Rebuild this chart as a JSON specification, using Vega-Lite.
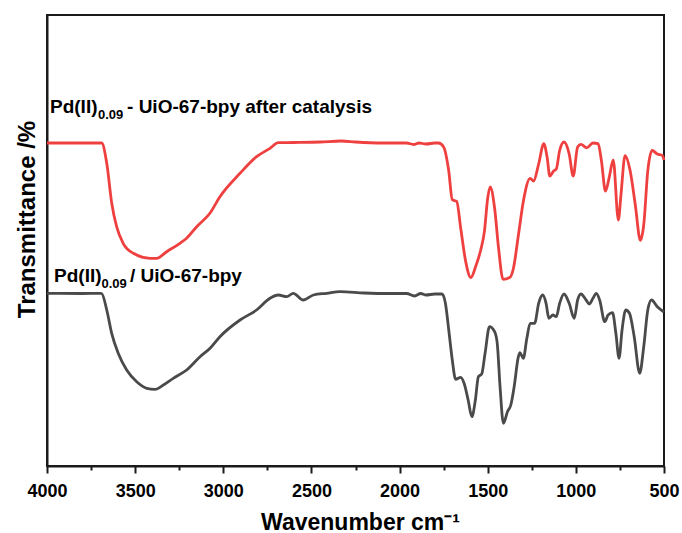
{
  "$schema": "https://vega.github.io/schema/vega-lite/v6.json",
  "width": 617,
  "height": 451,
  "autosize": {"type": "none"},
  "padding": {"left": 47, "top": 15, "right": 18, "bottom": 67},
  "background": "white",
  "config": {
    "font": "Liberation Sans",
    "view": {"stroke": "#1a1a1a", "strokeWidth": 2},
    "axis": {"grid": false, "domainColor": "#1a1a1a", "domainWidth": 2, "tickColor": "#1a1a1a", "tickWidth": 2},
    "text": {"font": "Liberation Sans", "fontWeight": "bold", "align": "left", "baseline": "alphabetic", "color": "#000000"}
  },
  "datasets": {
    "spectra": [
      {"sample": "after", "wn": 4000, "t": 323}, {"sample": "after", "wn": 3850, "t": 323}, {"sample": "after", "wn": 3720, "t": 323},
      {"sample": "after", "wn": 3690, "t": 323}, {"sample": "after", "wn": 3661, "t": 302.7}, {"sample": "after", "wn": 3633, "t": 263},
      {"sample": "after", "wn": 3605, "t": 239.3}, {"sample": "after", "wn": 3568, "t": 222.7}, {"sample": "after", "wn": 3510, "t": 212.7},
      {"sample": "after", "wn": 3415, "t": 207.7}, {"sample": "after", "wn": 3378, "t": 207.7}, {"sample": "after", "wn": 3321, "t": 214.3},
      {"sample": "after", "wn": 3246, "t": 222.7}, {"sample": "after", "wn": 3208, "t": 227.7}, {"sample": "after", "wn": 3151, "t": 239.3},
      {"sample": "after", "wn": 3076, "t": 252.7}, {"sample": "after", "wn": 3019, "t": 269.3}, {"sample": "after", "wn": 2905, "t": 292.7},
      {"sample": "after", "wn": 2811, "t": 309.3}, {"sample": "after", "wn": 2735, "t": 317.7}, {"sample": "after", "wn": 2688, "t": 323.3},
      {"sample": "after", "wn": 2600, "t": 323.5}, {"sample": "after", "wn": 2450, "t": 324}, {"sample": "after", "wn": 2330, "t": 325},
      {"sample": "after", "wn": 2250, "t": 324}, {"sample": "after", "wn": 2100, "t": 323}, {"sample": "after", "wn": 1960, "t": 323},
      {"sample": "after", "wn": 1920, "t": 321.5}, {"sample": "after", "wn": 1890, "t": 323}, {"sample": "after", "wn": 1850, "t": 322},
      {"sample": "after", "wn": 1800, "t": 323}, {"sample": "after", "wn": 1779, "t": 323}, {"sample": "after", "wn": 1750, "t": 319},
      {"sample": "after", "wn": 1721, "t": 295}, {"sample": "after", "wn": 1701, "t": 266.3}, {"sample": "after", "wn": 1676, "t": 264.6},
      {"sample": "after", "wn": 1653, "t": 237.5}, {"sample": "after", "wn": 1624, "t": 203.6}, {"sample": "after", "wn": 1596, "t": 188.4},
      {"sample": "after", "wn": 1567, "t": 200.2}, {"sample": "after", "wn": 1538, "t": 217.2}, {"sample": "after", "wn": 1519, "t": 234.1},
      {"sample": "after", "wn": 1500, "t": 268}, {"sample": "after", "wn": 1486, "t": 279.2}, {"sample": "after", "wn": 1461, "t": 258},
      {"sample": "after", "wn": 1438, "t": 217.2}, {"sample": "after", "wn": 1413, "t": 186.7}, {"sample": "after", "wn": 1375, "t": 188.4},
      {"sample": "after", "wn": 1355, "t": 197}, {"sample": "after", "wn": 1326, "t": 230.7}, {"sample": "after", "wn": 1298, "t": 264.6},
      {"sample": "after", "wn": 1259, "t": 287.7}, {"sample": "after", "wn": 1240, "t": 285}, {"sample": "after", "wn": 1211, "t": 302},
      {"sample": "after", "wn": 1182, "t": 322.3}, {"sample": "after", "wn": 1163, "t": 308.7}, {"sample": "after", "wn": 1148, "t": 290},
      {"sample": "after", "wn": 1125, "t": 295.2}, {"sample": "after", "wn": 1111, "t": 297}, {"sample": "after", "wn": 1092, "t": 315.5},
      {"sample": "after", "wn": 1067, "t": 324}, {"sample": "after", "wn": 1038, "t": 312.1}, {"sample": "after", "wn": 1015, "t": 290},
      {"sample": "after", "wn": 990, "t": 319}, {"sample": "after", "wn": 971, "t": 321.6}, {"sample": "after", "wn": 938, "t": 318.2},
      {"sample": "after", "wn": 903, "t": 323}, {"sample": "after", "wn": 874, "t": 322.3}, {"sample": "after", "wn": 855, "t": 305.3},
      {"sample": "after", "wn": 832, "t": 274.8}, {"sample": "after", "wn": 811, "t": 288.4}, {"sample": "after", "wn": 788, "t": 306},
      {"sample": "after", "wn": 759, "t": 246}, {"sample": "after", "wn": 744, "t": 271.4}, {"sample": "after", "wn": 721, "t": 310.4},
      {"sample": "after", "wn": 692, "t": 295.2}, {"sample": "after", "wn": 663, "t": 261.3}, {"sample": "after", "wn": 634, "t": 225.7},
      {"sample": "after", "wn": 615, "t": 241}, {"sample": "after", "wn": 592, "t": 295.2}, {"sample": "after", "wn": 567, "t": 315.5},
      {"sample": "after", "wn": 538, "t": 312}, {"sample": "after", "wn": 509, "t": 310.4}, {"sample": "after", "wn": 500, "t": 306},

      {"sample": "fresh", "wn": 4000, "t": 172.7}, {"sample": "fresh", "wn": 3800, "t": 172.5}, {"sample": "fresh", "wn": 3700, "t": 172.7},
      {"sample": "fresh", "wn": 3690, "t": 172.5}, {"sample": "fresh", "wn": 3661, "t": 156}, {"sample": "fresh", "wn": 3633, "t": 132.7},
      {"sample": "fresh", "wn": 3596, "t": 112.7}, {"sample": "fresh", "wn": 3548, "t": 96}, {"sample": "fresh", "wn": 3491, "t": 84.3},
      {"sample": "fresh", "wn": 3434, "t": 77.7}, {"sample": "fresh", "wn": 3387, "t": 76.7}, {"sample": "fresh", "wn": 3340, "t": 81},
      {"sample": "fresh", "wn": 3284, "t": 87.7}, {"sample": "fresh", "wn": 3208, "t": 96}, {"sample": "fresh", "wn": 3132, "t": 109.3},
      {"sample": "fresh", "wn": 3075, "t": 117.7}, {"sample": "fresh", "wn": 3019, "t": 129.3}, {"sample": "fresh", "wn": 2905, "t": 146},
      {"sample": "fresh", "wn": 2811, "t": 156}, {"sample": "fresh", "wn": 2735, "t": 167.7}, {"sample": "fresh", "wn": 2688, "t": 171},
      {"sample": "fresh", "wn": 2640, "t": 169.3}, {"sample": "fresh", "wn": 2603, "t": 172.7}, {"sample": "fresh", "wn": 2546, "t": 166},
      {"sample": "fresh", "wn": 2489, "t": 171}, {"sample": "fresh", "wn": 2413, "t": 172.7}, {"sample": "fresh", "wn": 2338, "t": 174.3},
      {"sample": "fresh", "wn": 2200, "t": 173}, {"sample": "fresh", "wn": 2050, "t": 172.5}, {"sample": "fresh", "wn": 1960, "t": 172.5},
      {"sample": "fresh", "wn": 1915, "t": 170}, {"sample": "fresh", "wn": 1880, "t": 172.5}, {"sample": "fresh", "wn": 1850, "t": 171},
      {"sample": "fresh", "wn": 1800, "t": 172}, {"sample": "fresh", "wn": 1759, "t": 172}, {"sample": "fresh", "wn": 1740, "t": 162.7},
      {"sample": "fresh", "wn": 1721, "t": 136}, {"sample": "fresh", "wn": 1701, "t": 106}, {"sample": "fresh", "wn": 1682, "t": 86.7},
      {"sample": "fresh", "wn": 1653, "t": 88.7}, {"sample": "fresh", "wn": 1634, "t": 82.7}, {"sample": "fresh", "wn": 1611, "t": 66},
      {"sample": "fresh", "wn": 1590, "t": 49.3}, {"sample": "fresh", "wn": 1570, "t": 66}, {"sample": "fresh", "wn": 1553, "t": 89.3},
      {"sample": "fresh", "wn": 1534, "t": 92}, {"sample": "fresh", "wn": 1515, "t": 112.7}, {"sample": "fresh", "wn": 1490, "t": 139.3},
      {"sample": "fresh", "wn": 1461, "t": 134.3}, {"sample": "fresh", "wn": 1446, "t": 122.7}, {"sample": "fresh", "wn": 1430, "t": 79.3},
      {"sample": "fresh", "wn": 1411, "t": 42.7}, {"sample": "fresh", "wn": 1388, "t": 54.3}, {"sample": "fresh", "wn": 1369, "t": 61},
      {"sample": "fresh", "wn": 1350, "t": 79.3}, {"sample": "fresh", "wn": 1326, "t": 109.3}, {"sample": "fresh", "wn": 1317, "t": 113.3},
      {"sample": "fresh", "wn": 1298, "t": 107.7}, {"sample": "fresh", "wn": 1278, "t": 127.7}, {"sample": "fresh", "wn": 1259, "t": 142.7},
      {"sample": "fresh", "wn": 1234, "t": 142.7}, {"sample": "fresh", "wn": 1211, "t": 162.7}, {"sample": "fresh", "wn": 1188, "t": 171},
      {"sample": "fresh", "wn": 1169, "t": 162.7}, {"sample": "fresh", "wn": 1153, "t": 147.7}, {"sample": "fresh", "wn": 1130, "t": 151},
      {"sample": "fresh", "wn": 1111, "t": 149.3}, {"sample": "fresh", "wn": 1092, "t": 162.7}, {"sample": "fresh", "wn": 1067, "t": 172},
      {"sample": "fresh", "wn": 1038, "t": 162.7}, {"sample": "fresh", "wn": 1009, "t": 147.7}, {"sample": "fresh", "wn": 990, "t": 166},
      {"sample": "fresh", "wn": 971, "t": 172}, {"sample": "fresh", "wn": 942, "t": 166}, {"sample": "fresh", "wn": 923, "t": 162},
      {"sample": "fresh", "wn": 903, "t": 167.7}, {"sample": "fresh", "wn": 884, "t": 172.7}, {"sample": "fresh", "wn": 865, "t": 166},
      {"sample": "fresh", "wn": 836, "t": 144.3}, {"sample": "fresh", "wn": 817, "t": 151}, {"sample": "fresh", "wn": 792, "t": 153.3},
      {"sample": "fresh", "wn": 773, "t": 132.7}, {"sample": "fresh", "wn": 755, "t": 107.7}, {"sample": "fresh", "wn": 738, "t": 136},
      {"sample": "fresh", "wn": 717, "t": 156}, {"sample": "fresh", "wn": 696, "t": 152.7}, {"sample": "fresh", "wn": 669, "t": 129.3},
      {"sample": "fresh", "wn": 638, "t": 92.7}, {"sample": "fresh", "wn": 615, "t": 119.3}, {"sample": "fresh", "wn": 592, "t": 156},
      {"sample": "fresh", "wn": 571, "t": 166}, {"sample": "fresh", "wn": 538, "t": 159.3}, {"sample": "fresh", "wn": 500, "t": 154}
    ],
    "anchor": [{}]
  },
  "layer": [
    {
      "data": {"name": "spectra"},
      "mark": {"type": "line", "strokeWidth": 2.8, "interpolate": "monotone"},
      "encoding": {
        "x": {
          "field": "wn", "type": "quantitative",
          "scale": {"domain": [500, 4000], "reverse": true, "nice": false, "zero": false},
          "axis": {
            "values": [4000, 3750, 3500, 3250, 3000, 2750, 2500, 2250, 2000, 1750, 1500, 1250, 1000, 750, 500],
            "format": "d",
            "labelExpr": "datum.value % 500 === 0 ? datum.label : ''",
            "tickSize": {"condition": {"test": "datum.value % 500 === 0", "value": 7}, "value": 4},
            "labelFlush": false, "labelOverlap": false,
            "labelFontSize": 18, "labelFontWeight": "bold", "labelColor": "#000000", "labelPadding": 9,
            "title": "Wavenumber cm⁻¹", "titleFontSize": 23, "titleFontWeight": "bold", "titleColor": "#000000",
            "titleBaseline": "alphabetic", "titleY": 63, "titleX": 313, "titleAlign": "center"
          }
        },
        "y": {
          "field": "t", "type": "quantitative",
          "scale": {"domain": [0, 451], "nice": false, "zero": false},
          "axis": {
            "ticks": false, "labels": false,
            "title": "Transmittance /%", "titleFontSize": 24, "titleFontWeight": "bold", "titleColor": "#000000",
            "titleAngle": 270, "titleBaseline": "alphabetic", "titleAlign": "center", "titleX": -13, "titleY": 204
          }
        },
        "color": {
          "field": "sample", "type": "nominal",
          "scale": {"domain": ["after", "fresh"], "range": ["#ef4040", "#4a4a4a"]},
          "legend": null
        }
      }
    },
    {
      "data": {"name": "anchor"},
      "mark": {"type": "text", "text": "Pd(II)", "fontSize": 19},
      "encoding": {"x": {"datum": 3983}, "y": {"datum": 352.7}}
    },
    {
      "data": {"name": "anchor"},
      "mark": {"type": "text", "text": "0.09", "fontSize": 13},
      "encoding": {"x": {"datum": 3711}, "y": {"datum": 347}}
    },
    {
      "data": {"name": "anchor"},
      "mark": {"type": "text", "text": "- UiO-67-bpy after catalysis", "fontSize": 19},
      "encoding": {"x": {"datum": 3546}, "y": {"datum": 352.7}}
    },
    {
      "data": {"name": "anchor"},
      "mark": {"type": "text", "text": "Pd(II)", "fontSize": 19},
      "encoding": {"x": {"datum": 3960}, "y": {"datum": 184.3}}
    },
    {
      "data": {"name": "anchor"},
      "mark": {"type": "text", "text": "0.09", "fontSize": 13},
      "encoding": {"x": {"datum": 3691}, "y": {"datum": 178}}
    },
    {
      "data": {"name": "anchor"},
      "mark": {"type": "text", "text": "/ UiO-67-bpy", "fontSize": 19},
      "encoding": {"x": {"datum": 3529}, "y": {"datum": 184.3}}
    }
  ]
}
